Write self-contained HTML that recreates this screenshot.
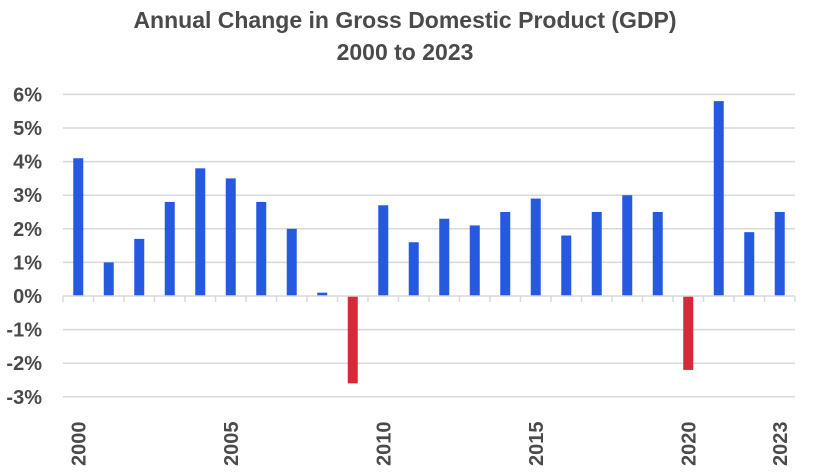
<!DOCTYPE html>
<html><head><meta charset="utf-8"><style>
body{margin:0;background:#fff;}
svg{display:block;font-family:"Liberation Sans",sans-serif;}
</style></head><body>
<svg id="chart" width="840" height="472">
<text x="405" y="28" text-anchor="middle" font-size="23" font-weight="bold" fill="#4a4a4a">Annual Change in Gross Domestic Product (GDP)</text>
<text x="405" y="60" text-anchor="middle" font-size="23" font-weight="bold" fill="#4a4a4a">2000 to 2023</text>
<g id="grid"></g><g id="bars"></g><g id="axes"></g>
</svg>
<script>
const years=[2000,2001,2002,2003,2004,2005,2006,2007,2008,2009,2010,2011,2012,2013,2014,2015,2016,2017,2018,2019,2020,2021,2022,2023];
const values=[4.1,1.0,1.7,2.8,3.8,3.5,2.8,2.0,0.1,-2.6,2.7,1.6,2.3,2.1,2.5,2.9,1.8,2.5,3.0,2.5,-2.2,5.8,1.9,2.5];
const yTicks=[6,5,4,3,2,1,0,-1,-2,-3];
const xLabels=[2000,2005,2010,2015,2020,2023];
const NS="http://www.w3.org/2000/svg";
const L=63,R=795,y0=296,pp=33.6;
const bw=(R-L)/years.length;
const y=v=>y0-v*pp;
const x=i=>L+bw*(i+0.5);
function mk(t,a,p){const e=document.createElementNS(NS,t);for(const k in a)e.setAttribute(k,a[k]);p.appendChild(e);return e;}
const grid=document.getElementById('grid'),bars=document.getElementById('bars'),axes=document.getElementById('axes');
yTicks.forEach(t=>{
 if(t!==0){const g=mk('line',{x1:L,x2:R,y1:y(t),y2:y(t),stroke:'#d9d9d9','stroke-width':1.5},grid);
 
 }
 const lb=mk('text',{x:42,y:y(t)+7,'text-anchor':'end','font-size':20,'font-weight':'bold',fill:'#4a4a4a'},axes);
 lb.textContent=t+'%';
 
 
});
values.forEach((v,i)=>{
 const r=mk('rect',{x:x(i)-5,width:10,y:Math.min(y(v),y0),height:Math.abs(y(v)-y0),fill:v<0?'#d42a3a':'#2459e0'},bars);
 
 
});
const ax=mk('line',{x1:L,x2:R,y1:y0,y2:y0,stroke:'#d9d9d9','stroke-width':1.5},axes);


for(let i=0;i<=years.length;i++){
 const tk=mk('line',{x1:L+bw*i,x2:L+bw*i,y1:y0,y2:y0+6,stroke:'#d9d9d9','stroke-width':1.5},axes);
 
 
}
xLabels.forEach(yr=>{
 const i=years.indexOf(yr);
 const cx=x(i)+7;
 const t=mk('text',{x:cx,y:466,transform:`rotate(-90 ${cx} 466)`,'font-size':20,'font-weight':'bold',fill:'#4a4a4a'},axes);
 t.textContent=yr;
 
 
});
</script>
</body></html>
